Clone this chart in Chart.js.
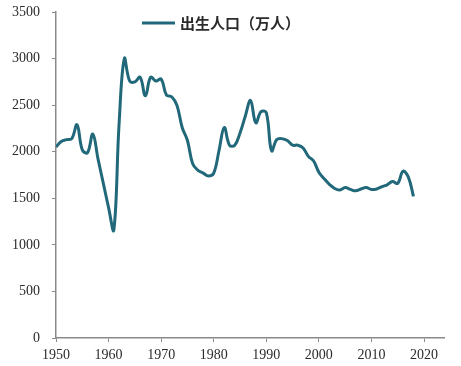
<!DOCTYPE html>
<html lang="zh">
<head>
  <meta charset="UTF-8">
  <title>出生人口（万人）</title>
  <style>
    html, body {
      margin: 0;
      padding: 0;
      background: #fff;
    }
    .chart-box {
      width: 461px;
      height: 366px;
      position: relative;
    }
  </style>
</head>
<body>
  <div class="chart-box">
    <canvas id="birth-chart"></canvas>
  </div>

  <script src="https://cdn.jsdelivr.net/npm/chart.js"></script>
  <script>
    // 数据
    const seriesLabel = '出生人口（万人）';
    const years = [
      1950, 1951, 1952, 1953, 1954, 1955, 1956, 1957, 1958, 1959,
      1960, 1961, 1962, 1963, 1964, 1965, 1966, 1967, 1968, 1969,
      1970, 1971, 1972, 1973, 1974, 1975, 1976, 1977, 1978, 1979,
      1980, 1981, 1982, 1983, 1984, 1985, 1986, 1987, 1988, 1989,
      1990, 1991, 1992, 1993, 1994, 1995, 1996, 1997, 1998, 1999,
      2000, 2001, 2002, 2003, 2004, 2005, 2006, 2007, 2008, 2009,
      2010, 2011, 2012, 2013, 2014, 2015, 2016, 2017, 2018
    ];
    const births = [
      2050, 2110, 2130, 2140, 2290, 2020, 1990, 2190, 1920, 1660,
      1400, 1160, 2300, 3000, 2760, 2750, 2800, 2600, 2800, 2760,
      2780, 2610, 2590, 2500, 2260, 2120, 1870, 1800, 1770, 1740,
      1770, 2010, 2260, 2070, 2070, 2200, 2380, 2550, 2310, 2430,
      2420, 2010, 2130, 2140, 2120, 2070, 2070, 2040, 1950, 1900,
      1780, 1710, 1650, 1605, 1590, 1615, 1595, 1580, 1600, 1615,
      1595, 1600, 1625, 1645, 1680, 1660, 1790, 1730, 1520
    ];
    const xTicks = [1950, 1960, 1970, 1980, 1990, 2000, 2010, 2020];
    const yTicks = [0, 500, 1000, 1500, 2000, 2500, 3000, 3500];

    const lineColor = '#21697a';
    const axisColor = '#8a8a8a';
    const textColor = '#2b2b2b';

    // 图例画在绘图区内部
    const innerLegend = {
      id: 'innerLegend',
      afterDraw(chart) {
        const ctx = chart.ctx;
        const ds = chart.data.datasets[0];
        ctx.save();
        ctx.strokeStyle = ds.borderColor;
        ctx.lineWidth = 3;
        ctx.beginPath();
        ctx.moveTo(142, 23);
        ctx.lineTo(175, 23);
        ctx.stroke();
        ctx.fillStyle = textColor;
        ctx.font = 'bold 15px "Noto Sans CJK SC"';
        ctx.textBaseline = 'middle';
        ctx.fillText(ds.label, 180, 23);
        ctx.restore();
      }
    };

    const ctx = document.getElementById('birth-chart').getContext('2d');
    new Chart(ctx, {
      type: 'line',
      data: {
        datasets: [{
          label: seriesLabel,
          data: years.map((y, i) => ({ x: y, y: births[i] })),
          borderColor: lineColor,
          borderWidth: 3,
          pointRadius: 0,
          tension: 0.4,
          fill: false
        }]
      },
      options: {
        responsive: true,
        maintainAspectRatio: false,
        animation: false,
        layout: {
          padding: { top: 0, right: 17, left: 0, bottom: 2 }
        },
        plugins: {
          legend: { display: false },
          tooltip: { enabled: false }
        },
        scales: {
          x: {
            type: 'linear',
            min: 1950,
            max: 2023.8,
            afterBuildTicks: axis => { axis.ticks = xTicks.map(v => ({ value: v })); },
            afterFit: axis => { axis.height = 26; },
            grid: {
              display: true,
              drawOnChartArea: false,
              drawTicks: true,
              tickLength: 4,
              color: axisColor
            },
            border: { color: axisColor, width: 1.5 },
            ticks: {
              color: textColor,
              font: { family: '"Liberation Serif"', size: 14 },
              padding: 5,
              maxRotation: 0,
              callback: v => String(v)
            }
          },
          y: {
            min: 0,
            max: 3500,
            afterBuildTicks: axis => { axis.ticks = yTicks.map(v => ({ value: v })); },
            // 标签间距不要挤压绘图区上下边
            afterFit: axis => { axis.paddingTop = 12; axis.paddingBottom = 0; },
            grid: {
              display: true,
              drawOnChartArea: false,
              drawTicks: true,
              tickLength: 4,
              color: axisColor
            },
            border: { color: axisColor, width: 1.5 },
            ticks: {
              color: textColor,
              font: { family: '"Liberation Serif"', size: 14 },
              padding: 12,
              callback: v => String(v)
            }
          }
        }
      },
      plugins: [innerLegend]
    });
  </script>
</body>
</html>
